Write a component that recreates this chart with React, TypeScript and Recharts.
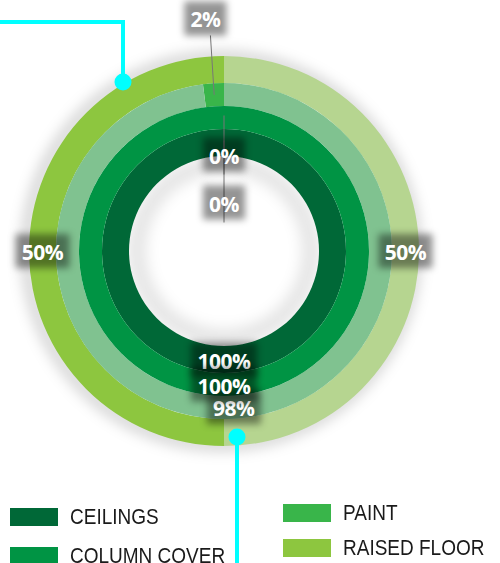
import React from 'react';
import { PieChart, Pie, Cell, Legend } from 'recharts';

// Data (counter-clockwise from 12 o'clock)
const ceilings = [
  { name: 'Remaining', value: 0 },
  { name: 'Done', value: 100 },
];
const columnCover = [
  { name: 'Remaining', value: 0 },
  { name: 'Done', value: 100 },
];
const paint = [
  { name: 'Remaining', value: 2 },
  { name: 'Done', value: 98 },
];
const raisedFloor = [
  { name: 'Done', value: 50 },
  { name: 'Remaining', value: 50 },
];

const legendNames = ['CEILINGS', 'COLUMN COVER', 'PAINT', 'RAISED FLOOR'];
const legendColors = ['#006837', '#009444', '#39b54a', '#8dc63f'];

const ceilingColors = ['#006837', '#006837'];
const columnColors = ['#009444', '#009444'];
const paintColors = ['#39b54a', '#80c290'];
const raisedColors = ['#8dc63f', '#b6d590'];

const RAD = Math.PI / 180;
const CX = 224;
const CY = 251;

const Box = ({ x, y, text }: { x: number; y: number; text: string }) => {
  const w = text.length * 12 + 18;
  const h = 34;
  return (
    <g>
      <rect
        x={x - w / 2}
        y={y - h / 2}
        width={w}
        height={h}
        fill="rgba(0,0,0,0.42)"
        style={{ filter: 'blur(3.5px)' }}
      />
      <text
        x={x}
        y={y + 1}
        textAnchor="middle"
        dominantBaseline="central"
        fill="#ffffff"
        fontFamily="'Open Sans', sans-serif"
        fontWeight={700}
        fontSize={21}
        letterSpacing={-0.5}
      >
        {text}
      </text>
    </g>
  );
};

const makeLabel = (zeroOffset: number) => (props: any) => {
  const { cx, cy, midAngle, innerRadius, outerRadius, percent } = props;
  const text = `${Math.round(percent * 100)}%`;
  const mid = (innerRadius + outerRadius) / 2;
  const cos = Math.cos(-midAngle * RAD);
  const sin = Math.sin(-midAngle * RAD);
  if (percent === 0) {
    const r = mid - zeroOffset;
    return (
      <g>
        <line
          x1={cx + cos * (mid + 2)}
          y1={cy + sin * (mid + 2)}
          x2={cx + cos * (r - 20)}
          y2={cy + sin * (r - 20)}
          stroke="#777"
          strokeWidth={1}
        />
        <Box x={cx + cos * r} y={cy + sin * r} text={text} />
      </g>
    );
  }
  if (percent < 0.05) {
    const r1 = outerRadius + 48;
    const r2 = outerRadius + 65;
    return (
      <g>
        <line
          x1={cx + cos * mid}
          y1={cy + sin * mid}
          x2={cx + cos * r1}
          y2={cy + sin * r1}
          stroke="#777"
          strokeWidth={1}
        />
        <Box x={cx + cos * r2 - 4} y={cy + sin * r2} text={text} />
      </g>
    );
  }
  return <Box x={cx + cos * mid} y={cy + sin * mid} text={text} />;
};

const LegendContent = () => {
  const pos = [
    { x: 10, y: 508 },
    { x: 10, y: 547 },
    { x: 283, y: 504 },
    { x: 283, y: 539 },
  ];
  return (
    <div style={{ position: 'relative', width: 500, height: 563 }}>
      {legendNames.map((n, i) => (
        <div
          key={n}
          style={{
            position: 'absolute',
            left: pos[i].x,
            top: pos[i].y,
            display: 'flex',
            alignItems: 'center',
            height: 18,
          }}
        >
          <div style={{ width: 48, height: 18, background: legendColors[i] }} />
          <span
            style={{
              marginLeft: 12,
              fontFamily: "'Liberation Sans', Arial, sans-serif",
              fontSize: 19,
              color: '#1a1a1a',
              whiteSpace: 'nowrap',
              lineHeight: '18px',
              display: 'inline-block',
              transform: 'scaleY(1.12)',
            }}
          >
            {n}
          </span>
        </div>
      ))}
    </div>
  );
};

export default function App() {
  return (
    <div style={{ position: 'absolute', left: 0, top: 0, width: 500, height: 563, background: '#fff', overflow: 'hidden' }}>
      <PieChart width={500} height={563} margin={{ top: 0, right: 0, bottom: 0, left: 0 }}>
        <Pie
          data={[{ name: 'shadow', value: 1 }]}
          dataKey="value"
          cx={CX - 3}
          cy={CY}
          innerRadius={188}
          outerRadius={200}
          stroke="none"
          fill="rgba(0,0,0,0.18)"
          isAnimationActive={false}
          style={{ filter: 'blur(7px)' }}
        />
        <Pie
          data={[{ name: 'inner shade', value: 1 }]}
          dataKey="value"
          cx={CX}
          cy={CY}
          innerRadius={78}
          outerRadius={96}
          stroke="none"
          fill="rgba(0,0,0,0.10)"
          isAnimationActive={false}
          style={{ filter: 'blur(7px)' }}
        />
        <Pie
          data={raisedFloor}
          dataKey="value"
          cx={CX}
          cy={CY}
          startAngle={90}
          endAngle={450}
          innerRadius={168}
          outerRadius={195}
          stroke="none"
          isAnimationActive={false}
          labelLine={false}
          label={makeLabel(0)}
        >
          {raisedFloor.map((d, i) => (
            <Cell key={i} fill={raisedColors[i]} />
          ))}
        </Pie>
        <Pie
          data={paint}
          dataKey="value"
          cx={CX}
          cy={CY}
          startAngle={90}
          endAngle={450}
          innerRadius={145}
          outerRadius={168}
          stroke="none"
          isAnimationActive={false}
          labelLine={false}
          label={makeLabel(0)}
        >
          {paint.map((d, i) => (
            <Cell key={i} fill={paintColors[i]} />
          ))}
        </Pie>
        <Pie
          data={ceilings}
          dataKey="value"
          cx={CX}
          cy={CY}
          startAngle={90}
          endAngle={450}
          innerRadius={95}
          outerRadius={122}
          stroke="none"
          isAnimationActive={false}
          labelLine={false}
          label={makeLabel(60)}
        >
          {ceilings.map((d, i) => (
            <Cell key={i} fill={ceilingColors[i]} />
          ))}
        </Pie>
        <Pie
          data={columnCover}
          dataKey="value"
          cx={CX}
          cy={CY}
          startAngle={90}
          endAngle={450}
          innerRadius={122}
          outerRadius={145}
          stroke="none"
          isAnimationActive={false}
          labelLine={false}
          label={makeLabel(37)}
        >
          {columnCover.map((d, i) => (
            <Cell key={i} fill={columnColors[i]} />
          ))}
        </Pie>
        <Legend
          content={<LegendContent />}
          wrapperStyle={{ position: 'absolute', left: 0, top: 0, width: 500, height: 563, pointerEvents: 'none' }}
        />
      </PieChart>
      <svg
        width={500}
        height={563}
        style={{ position: 'absolute', left: 0, top: 0, pointerEvents: 'none' }}
      >
        <polyline points="0,22 123,22 123,82" fill="none" stroke="#00ffff" strokeWidth={4} />
        <circle cx={123} cy={82} r={8.5} fill="#00ffff" />
        <line x1={237} y1={437} x2={237} y2={563} stroke="#00ffff" strokeWidth={4} />
        <circle cx={237} cy={437} r={8.5} fill="#00ffff" />
      </svg>
    </div>
  );
}
